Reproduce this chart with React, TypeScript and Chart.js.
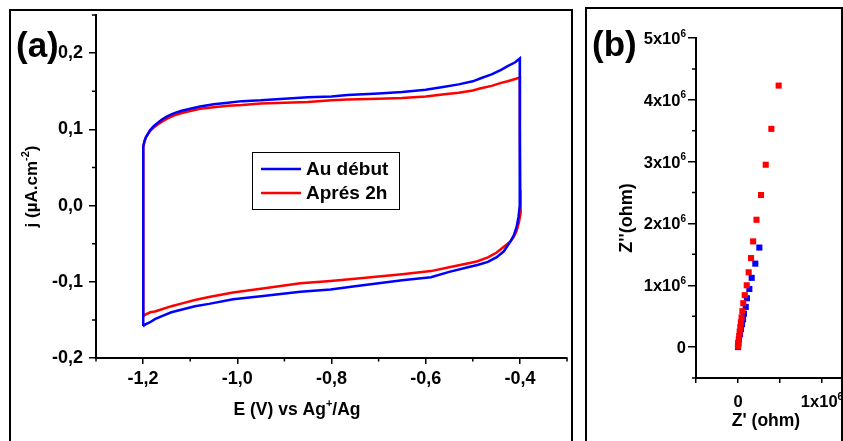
import React, { useEffect, useRef } from 'react';
import { Chart, registerables } from 'chart.js';

Chart.register(...registerables);

const FONT = '"Liberation Sans", Arial, Helvetica, sans-serif';
const BLUE = '#0000ff';
const RED = '#ff0000';

// ---------- Panel (a): cyclic voltammetry, [E (V), j] ----------
const cvSeriesNames = ['Au début', 'Aprés 2h'];

const cvBlue: [number, number][] = [
  [-1.2, -0.158], [-1.2, 0.0], [-1.2, 0.06], [-1.199, 0.078], [-1.197, 0.085], [-1.194, 0.09],
  [-1.19, 0.094], [-1.185, 0.099], [-1.178, 0.104], [-1.17, 0.108], [-1.16, 0.113], [-1.149, 0.117],
  [-1.135, 0.121], [-1.12, 0.124], [-1.1, 0.127], [-1.079, 0.13], [-1.05, 0.133], [-1.02, 0.135],
  [-0.99, 0.137], [-0.95, 0.138], [-0.9, 0.14], [-0.85, 0.142], [-0.8, 0.143], [-0.766, 0.145],
  [-0.7, 0.147], [-0.65, 0.149], [-0.6, 0.152], [-0.56, 0.156], [-0.53, 0.159], [-0.5, 0.163],
  [-0.483, 0.167], [-0.46, 0.172], [-0.44, 0.178], [-0.426, 0.183], [-0.41, 0.188], [-0.4, 0.193],
  [-0.4, 0.1], [-0.4, 0.02], [-0.401, 0.0], [-0.403, -0.015], [-0.407, -0.028], [-0.413, -0.039],
  [-0.42, -0.047], [-0.434, -0.06], [-0.45, -0.068], [-0.468, -0.074], [-0.49, -0.078], [-0.504, -0.08],
  [-0.55, -0.087], [-0.589, -0.094], [-0.65, -0.098], [-0.7, -0.102], [-0.75, -0.106], [-0.802, -0.11],
  [-0.866, -0.113], [-0.95, -0.119], [-1.009, -0.123], [-1.06, -0.129], [-1.09, -0.132], [-1.115, -0.136],
  [-1.14, -0.14], [-1.16, -0.145], [-1.175, -0.149], [-1.185, -0.153], [-1.195, -0.156], [-1.2, -0.158],
];
const cvRed: [number, number][] = [
  [-1.2, -0.145], [-1.2, 0.0], [-1.2, 0.06], [-1.199, 0.077], [-1.197, 0.084], [-1.194, 0.089],
  [-1.19, 0.093], [-1.185, 0.098], [-1.178, 0.102], [-1.17, 0.106], [-1.16, 0.11], [-1.149, 0.114],
  [-1.135, 0.118], [-1.12, 0.121], [-1.1, 0.124], [-1.079, 0.127], [-1.05, 0.129], [-1.02, 0.131],
  [-0.99, 0.132], [-0.95, 0.134], [-0.9, 0.135], [-0.85, 0.136], [-0.8, 0.138], [-0.766, 0.139],
  [-0.7, 0.14], [-0.65, 0.141], [-0.6, 0.143], [-0.56, 0.146], [-0.53, 0.148], [-0.5, 0.151],
  [-0.483, 0.154], [-0.46, 0.157], [-0.44, 0.161], [-0.426, 0.163], [-0.41, 0.166], [-0.4, 0.168],
  [-0.4, 0.1], [-0.399, 0.02], [-0.398, 0.0], [-0.399, -0.01], [-0.402, -0.022], [-0.407, -0.033],
  [-0.413, -0.041], [-0.42, -0.047], [-0.434, -0.054], [-0.45, -0.062], [-0.468, -0.068], [-0.49, -0.073],
  [-0.504, -0.075], [-0.55, -0.081], [-0.589, -0.086], [-0.65, -0.09], [-0.7, -0.093], [-0.75, -0.096],
  [-0.802, -0.099], [-0.866, -0.102], [-0.95, -0.109], [-1.009, -0.114], [-1.06, -0.12], [-1.09, -0.124],
  [-1.115, -0.128], [-1.14, -0.132], [-1.16, -0.136], [-1.175, -0.139], [-1.185, -0.14], [-1.195, -0.143],
  [-1.2, -0.145],
];
const cvXTicks = [-1.2, -1.0, -0.8, -0.6, -0.4];
const cvXMinor = [-1.3, -1.1, -0.9, -0.7, -0.5, -0.3];
const cvYTicks = [-0.2, -0.1, 0, 0.1, 0.2];
const cvYMinor = [-0.15, -0.05, 0.05, 0.15, 0.25];

// ---------- Panel (b): Nyquist, [Z' (ohm), Z'' (ohm)] ----------
const nyRed: [number, number][] = [
  [0.484e6, 4.23e6], [0.397e6, 3.53e6], [0.33e6, 2.95e6], [0.274e6, 2.46e6], [0.22e6, 2.06e6],
  [0.18e6, 1.71e6], [0.155e6, 1.44e6], [0.127e6, 1.21e6], [0.104e6, 1.0e6], [0.08e6, 0.84e6],
  [0.063e6, 0.71e6], [0.052e6, 0.58e6], [0.042e6, 0.48e6], [0.034e6, 0.4e6], [0.027e6, 0.32e6],
  [0.02e6, 0.25e6], [0.014e6, 0.18e6], [0.009e6, 0.12e6], [0.005e6, 0.07e6], [0.002e6, 0.03e6],
  [0, 0.01e6],
];
const nyBlue: [number, number][] = [
  [0.254e6, 1.61e6], [0.206e6, 1.35e6], [0.163e6, 1.12e6], [0.135e6, 0.94e6], [0.107e6, 0.79e6],
  [0.092e6, 0.65e6], [0.071e6, 0.54e6], [0.06e6, 0.45e6], [0.048e6, 0.37e6], [0.036e6, 0.29e6],
  [0.024e6, 0.21e6], [0.012e6, 0.13e6], [0.004e6, 0.06e6], [0, 0.02e6], [0, 0],
];
const nyXTicks = [-0.5e6, 0, 0.5e6, 1e6, 1.5e6];
const nyXLabeled = [0, 1e6];
const nyYTicks = [0, 1e6, 2e6, 3e6, 4e6, 5e6];
const nyYMinor = [-0.5e6, 0.5e6, 1.5e6, 2.5e6, 3.5e6, 4.5e6];

const toPts = (arr: [number, number][]) => arr.map(([x, y]) => ({ x, y }));
const fmtComma = (v: number) => (Math.abs(v) < 1e-9 ? 0 : v).toFixed(1).replace('.', ',');

type Seg = { t: string; sup?: boolean };
type TextItem = {
  segs: Seg[];
  x: number;
  y: number;
  size: number;
  rot?: number;
  align?: 'left' | 'center' | 'right';
};

function drawRich(ctx: CanvasRenderingContext2D, item: TextItem) {
  ctx.save();
  ctx.translate(item.x, item.y);
  if (item.rot) ctx.rotate(item.rot);
  ctx.fillStyle = '#000';
  ctx.textBaseline = 'alphabetic';
  ctx.textAlign = 'left';
  const supSize = Math.round(item.size * 0.62);
  const fontOf = (s: Seg) => `bold ${s.sup ? supSize : item.size}px ${FONT}`;
  const widths = item.segs.map((s) => {
    ctx.font = fontOf(s);
    return ctx.measureText(s.t).width;
  });
  const total = widths.reduce((a, b) => a + b, 0);
  let x = item.align === 'center' ? -total / 2 : item.align === 'right' ? -total : 0;
  item.segs.forEach((s, i) => {
    ctx.font = fontOf(s);
    ctx.fillText(s.t, x, s.sup ? -item.size * 0.45 : 0);
    x += widths[i];
  });
  ctx.restore();
}

const sciSegs = (v: number): Seg[] =>
  v === 0 ? [{ t: '0' }] : [{ t: `${Math.round(v / 1e6)}x10` }, { t: '6', sup: true }];

const textPlugin = (items: TextItem[]) => ({
  id: 'richText',
  afterDraw(chart: any) {
    items.forEach((it) => drawRich(chart.ctx, it));
  },
});

const sciTickLabelPlugin = {
  id: 'sciTickLabels',
  afterDraw(chart: any) {
    const { ctx, chartArea, scales } = chart;
    const size = 16.5;
    nyYTicks.forEach((v) => {
      const p = scales.y.getPixelForValue(v);
      drawRich(ctx, { segs: sciSegs(v), x: chartArea.left - 10, y: p + size * 0.36, size, align: 'right' });
    });
    nyXLabeled.forEach((v) => {
      const p = scales.x.getPixelForValue(v);
      drawRich(ctx, { segs: sciSegs(v), x: p, y: chartArea.bottom + 29, size, align: 'center' });
    });
  },
};

const minorTickPlugin = (xVals: number[], xLen: number, yVals: number[], yLen: number) => ({
  id: 'minorTicks',
  afterDraw(chart: any) {
    const { ctx, chartArea, scales } = chart;
    ctx.save();
    ctx.strokeStyle = '#000';
    ctx.lineWidth = 1.5;
    ctx.beginPath();
    xVals.forEach((v) => {
      const p = scales.x.getPixelForValue(v);
      ctx.moveTo(p, chartArea.bottom);
      ctx.lineTo(p, chartArea.bottom + xLen);
    });
    yVals.forEach((v) => {
      const p = scales.y.getPixelForValue(v);
      ctx.moveTo(chartArea.left, p);
      ctx.lineTo(chartArea.left - yLen, p);
    });
    ctx.stroke();
    ctx.restore();
  },
});

const legendPlugin = {
  id: 'boxLegend',
  afterDraw(chart: any) {
    const ctx = chart.ctx;
    ctx.save();
    ctx.fillStyle = '#fff';
    ctx.fillRect(242.5, 142.5, 147, 57);
    ctx.strokeStyle = '#000';
    ctx.lineWidth = 1;
    ctx.strokeRect(242.5, 142.5, 147, 57);
    chart.data.datasets.forEach((ds: any, i: number) => {
      const y = 159 + i * 24;
      ctx.strokeStyle = ds.borderColor;
      ctx.lineWidth = 2.5;
      ctx.beginPath();
      ctx.moveTo(251, y);
      ctx.lineTo(291, y);
      ctx.stroke();
      ctx.fillStyle = '#000';
      ctx.font = `bold 19px ${FONT}`;
      ctx.textBaseline = 'middle';
      ctx.textAlign = 'left';
      ctx.fillText(ds.label, 296, y + 1);
    });
    ctx.restore();
  },
};

const tickFont = (size: number) => ({ family: FONT, size, weight: 'bold' as const });
const noEdgePad = (s: any) => {
  s.paddingTop = 0;
  s.paddingBottom = 0;
  s.paddingLeft = 0;
  s.paddingRight = 0;
};

function CVChart() {
  const ref = useRef<HTMLCanvasElement>(null);
  useEffect(() => {
    if (!ref.current) return;
    const chart = new Chart(ref.current, {
      type: 'scatter',
      data: {
        datasets: [
          {
            label: cvSeriesNames[0],
            data: toPts(cvBlue),
            showLine: true,
            borderColor: BLUE,
            backgroundColor: BLUE,
            borderWidth: 2.5,
            pointRadius: 0,
            tension: 0,
          },
          {
            label: cvSeriesNames[1],
            data: toPts(cvRed),
            showLine: true,
            borderColor: RED,
            backgroundColor: RED,
            borderWidth: 2.5,
            pointRadius: 0,
            tension: 0,
          },
        ],
      },
      options: {
        responsive: false,
        animation: false,
        layout: { padding: { left: 0, top: 5, right: 5, bottom: 0 } },
        plugins: { legend: { display: false }, tooltip: { enabled: false }, title: { display: false } },
        scales: {
          x: {
            type: 'linear',
            position: 'bottom',
            min: -1.3,
            max: -0.3,
            afterBuildTicks: (s: any) => {
              s.ticks = cvXTicks.map((v) => ({ value: v }));
            },
            afterFit: (s: any) => {
              s.height = 83;
              noEdgePad(s);
            },
            ticks: {
              callback: (v: any) => fmtComma(Number(v)),
              font: tickFont(18),
              color: '#000',
              padding: 4,
              maxRotation: 0,
              autoSkip: false,
            },
            grid: { display: true, drawOnChartArea: false, drawTicks: true, tickLength: 6, color: '#000', lineWidth: 1.5 },
            border: { display: true, color: '#000', width: 2 },
          },
          y: {
            type: 'linear',
            min: -0.2,
            max: 0.25,
            afterBuildTicks: (s: any) => {
              s.ticks = cvYTicks.map((v) => ({ value: v }));
            },
            afterFit: (s: any) => {
              s.width = 86;
              noEdgePad(s);
            },
            ticks: {
              callback: (v: any) => fmtComma(Number(v)),
              font: tickFont(18),
              color: '#000',
              padding: 6,
              autoSkip: false,
            },
            grid: { display: true, drawOnChartArea: false, drawTicks: true, tickLength: 7, color: '#000', lineWidth: 1.5 },
            border: { display: true, color: '#000', width: 2 },
          },
        },
      } as any,
      plugins: [
        minorTickPlugin(cvXMinor, 3.5, cvYMinor, 4),
        legendPlugin,
        textPlugin([
          { segs: [{ t: '(a)' }], x: 6, y: 47, size: 35 },
          {
            segs: [{ t: 'E (V) vs Ag' }, { t: '+', sup: true }, { t: '/Ag' }],
            x: 287,
            y: 405,
            size: 17.5,
            align: 'center',
          },
          {
            segs: [{ t: 'j (µA.cm' }, { t: '-2', sup: true }, { t: ')' }],
            x: 27,
            y: 176.5,
            size: 17,
            rot: -Math.PI / 2,
            align: 'center',
          },
        ]),
      ],
    });
    return () => chart.destroy();
  }, []);
  return <canvas ref={ref} width={562} height={431} style={{ width: 562, height: 431, display: 'block' }} />;
}

function NyquistChart() {
  const ref = useRef<HTMLCanvasElement>(null);
  useEffect(() => {
    if (!ref.current) return;
    const chart = new Chart(ref.current, {
      type: 'scatter',
      data: {
        datasets: [
          {
            label: cvSeriesNames[1],
            data: toPts(nyRed),
            pointStyle: 'rect',
            pointRadius: 4.3,
            borderWidth: 0,
            backgroundColor: RED,
            borderColor: RED,
          },
          {
            label: cvSeriesNames[0],
            data: toPts(nyBlue),
            pointStyle: 'rect',
            pointRadius: 4.3,
            borderWidth: 0,
            backgroundColor: BLUE,
            borderColor: BLUE,
          },
        ],
      },
      options: {
        responsive: false,
        animation: false,
        layout: { padding: { left: 0, top: 29, right: 23, bottom: 0 } },
        plugins: { legend: { display: false }, tooltip: { enabled: false }, title: { display: false } },
        scales: {
          x: {
            type: 'linear',
            position: 'bottom',
            min: -0.5e6,
            max: 1.5e6,
            afterBuildTicks: (s: any) => {
              s.ticks = nyXTicks.map((v) => ({ value: v }));
            },
            afterFit: (s: any) => {
              s.height = 63;
              noEdgePad(s);
            },
            ticks: { display: false, autoSkip: false },
            grid: { display: true, drawOnChartArea: false, drawTicks: true, tickLength: 5, color: '#000', lineWidth: 1.5 },
            border: { display: true, color: '#000', width: 2 },
          },
          y: {
            type: 'linear',
            min: -0.5e6,
            max: 5e6,
            afterBuildTicks: (s: any) => {
              s.ticks = nyYTicks.map((v) => ({ value: v }));
            },
            afterFit: (s: any) => {
              s.width = 109;
              noEdgePad(s);
            },
            ticks: { display: false, autoSkip: false },
            grid: { display: true, drawOnChartArea: false, drawTicks: true, tickLength: 8, color: '#000', lineWidth: 1.5 },
            border: { display: true, color: '#000', width: 2 },
          },
        },
      } as any,
      plugins: [
        minorTickPlugin([], 0, nyYMinor, 4),
        sciTickLabelPlugin,
        textPlugin([
          { segs: [{ t: '(b)' }], x: 5, y: 47, size: 35 },
          { segs: [{ t: "Z' (ohm)" }], x: 179, y: 417, size: 17.5, align: 'center' },
          { segs: [{ t: "Z''(ohm)" }], x: 45, y: 209, size: 18, rot: -Math.PI / 2, align: 'center' },
        ]),
      ],
    });
    return () => chart.destroy();
  }, []);
  return <canvas ref={ref} width={300} height={432} style={{ width: 300, height: 432, display: 'block' }} />;
}

export default function App() {
  return (
    <div
      style={{
        position: 'fixed',
        left: 0,
        top: 0,
        width: 843,
        height: 441,
        overflow: 'hidden',
        background: '#fff',
      }}
    >
      <div
        style={{
          position: 'absolute',
          left: 9,
          top: 9,
          width: 564,
          height: 460,
          boxSizing: 'border-box',
          border: '2px solid #000',
        }}
      />
      <div
        style={{
          position: 'absolute',
          left: 585,
          top: 7,
          width: 258,
          height: 460,
          boxSizing: 'border-box',
          border: '2px solid #000',
        }}
      />
      <div style={{ position: 'absolute', left: 10, top: 10, width: 562, height: 431 }}>
        <CVChart />
      </div>
      <div style={{ position: 'absolute', left: 587, top: 9, width: 254, height: 432, overflow: 'hidden' }}>
        <NyquistChart />
      </div>
    </div>
  );
}
